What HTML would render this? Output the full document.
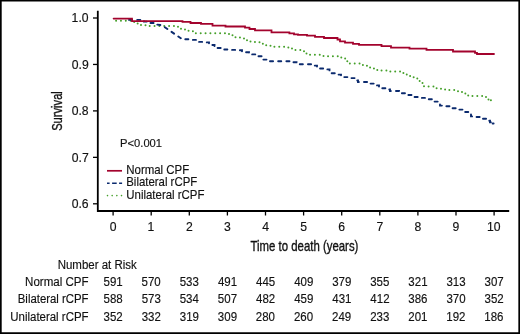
<!DOCTYPE html>
<html><head><meta charset="utf-8"><style>
html,body{margin:0;padding:0;background:#fff;width:520px;height:334px;overflow:hidden}
svg{display:block;will-change:transform}
text{font-family:"Liberation Sans", sans-serif;fill:#111;stroke:#111;stroke-width:0.15px}
</style></head><body>
<svg width="520" height="334" viewBox="0 0 520 334">
<path d="M97.8 10.7 V211.0 H509.2" fill="none" stroke="#000" stroke-width="1.8"/>
<path d="M93 18.00 H97.8" stroke="#000" stroke-width="1.3"/>
<text x="71.62" y="22.20" font-size="12.2" textLength="16.96" lengthAdjust="spacingAndGlyphs">1.0</text>
<path d="M93 64.45 H97.8" stroke="#000" stroke-width="1.3"/>
<text x="71.72" y="68.65" font-size="12.2" textLength="16.96" lengthAdjust="spacingAndGlyphs">0.9</text>
<path d="M93 110.90 H97.8" stroke="#000" stroke-width="1.3"/>
<text x="71.67" y="115.10" font-size="12.2" textLength="16.96" lengthAdjust="spacingAndGlyphs">0.8</text>
<path d="M93 157.35 H97.8" stroke="#000" stroke-width="1.3"/>
<text x="71.75" y="161.55" font-size="12.2" textLength="16.96" lengthAdjust="spacingAndGlyphs">0.7</text>
<path d="M93 203.80 H97.8" stroke="#000" stroke-width="1.3"/>
<text x="71.68" y="208.00" font-size="12.2" textLength="16.96" lengthAdjust="spacingAndGlyphs">0.6</text>
<path d="M113.10 211.0 V215.5" stroke="#000" stroke-width="1.3"/>
<text x="109.71" y="230.70" font-size="12.2" textLength="6.79" lengthAdjust="spacingAndGlyphs">0</text>
<path d="M151.20 211.0 V215.5" stroke="#000" stroke-width="1.3"/>
<text x="147.64" y="230.70" font-size="12.2" textLength="6.79" lengthAdjust="spacingAndGlyphs">1</text>
<path d="M189.30 211.0 V215.5" stroke="#000" stroke-width="1.3"/>
<text x="185.91" y="230.70" font-size="12.2" textLength="6.79" lengthAdjust="spacingAndGlyphs">2</text>
<path d="M227.40 211.0 V215.5" stroke="#000" stroke-width="1.3"/>
<text x="224.04" y="230.70" font-size="12.2" textLength="6.79" lengthAdjust="spacingAndGlyphs">3</text>
<path d="M265.50 211.0 V215.5" stroke="#000" stroke-width="1.3"/>
<text x="262.15" y="230.70" font-size="12.2" textLength="6.79" lengthAdjust="spacingAndGlyphs">4</text>
<path d="M303.60 211.0 V215.5" stroke="#000" stroke-width="1.3"/>
<text x="300.22" y="230.70" font-size="12.2" textLength="6.79" lengthAdjust="spacingAndGlyphs">5</text>
<path d="M341.70 211.0 V215.5" stroke="#000" stroke-width="1.3"/>
<text x="338.27" y="230.70" font-size="12.2" textLength="6.79" lengthAdjust="spacingAndGlyphs">6</text>
<path d="M379.80 211.0 V215.5" stroke="#000" stroke-width="1.3"/>
<text x="376.40" y="230.70" font-size="12.2" textLength="6.79" lengthAdjust="spacingAndGlyphs">7</text>
<path d="M417.90 211.0 V215.5" stroke="#000" stroke-width="1.3"/>
<text x="414.51" y="230.70" font-size="12.2" textLength="6.79" lengthAdjust="spacingAndGlyphs">8</text>
<path d="M456.00 211.0 V215.5" stroke="#000" stroke-width="1.3"/>
<text x="452.61" y="230.70" font-size="12.2" textLength="6.79" lengthAdjust="spacingAndGlyphs">9</text>
<path d="M494.10 211.0 V215.5" stroke="#000" stroke-width="1.3"/>
<text x="487.09" y="230.70" font-size="12.2" textLength="13.57" lengthAdjust="spacingAndGlyphs">10</text>
<text transform="translate(62.3 111) rotate(-90)" text-anchor="middle" font-size="14" textLength="39.7" lengthAdjust="spacingAndGlyphs" style="stroke-width:0.35px">Survival</text>
<text x="250.55" y="250.90" font-size="14.8" textLength="107.86" lengthAdjust="spacingAndGlyphs" style="stroke-width:0.35px">Time to death (years)</text>
<text x="120.08" y="147.40" font-size="11.2" textLength="41.96" lengthAdjust="spacingAndGlyphs">P&lt;0.001</text>
<path d="M107 170.8 H122" stroke="#a3032d" stroke-width="1.7"/>
<path d="M107 183.2 H122.3" stroke="#0b2a6e" stroke-width="1.4" stroke-dasharray="2.6 2.5 4.6 2.4 3"/>
<path d="M107.5 195.6 H122" stroke="#45a02a" stroke-width="1.6" stroke-dasharray="0 4.67" stroke-linecap="round"/>
<text x="126.26" y="173.90" font-size="12.1" textLength="63.00" lengthAdjust="spacingAndGlyphs">Normal CPF</text>
<text x="126.26" y="186.30" font-size="12.1" textLength="70.99" lengthAdjust="spacingAndGlyphs">Bilateral rCPF</text>
<text x="126.32" y="198.80" font-size="12.1" textLength="78.14" lengthAdjust="spacingAndGlyphs">Unilateral rCPF</text>
<path d="M113.3 20.8 H132.0 V21.5 H134.0 V22.1 H137.5 V23.5 H141.0 V25.0 H145.5 V25.5 H149.5 V26.0 H178.0 V28.0 H181.0 V29.5 H186.0 V30.8 H190.0 V31.3 H195.5 V33.2 H229.0 V34.8 H232.5 V36.1 H235.5 V37.6 H244.0 V38.8 H247.0 V40.6 H250.5 V42.0 H259.5 V43.8 H263.0 V45.3 H270.5 V46.8 H285.0 V47.4 H288.5 V48.6 H292.0 V50.0 H304.0 V51.5 H305.5 V53.5 H308.5 V54.8 H323.5 V56.2 H339.0 V57.5 H342.5 V58.5 H345.5 V61.2 H349.0 V63.5 H362.0 V65.0 H366.5 V65.8 H369.0 V67.5 H371.0 V68.5 H375.0 V70.0 H378.0 V70.6 H389.0 V71.5 H402.0 V73.0 H406.0 V74.5 H409.0 V76.0 H412.0 V77.3 H415.0 V78.5 H418.0 V81.0 H421.0 V83.0 H424.0 V86.6 H436.0 V88.3 H441.0 V89.5 H449.0 V90.1 H458.0 V92.0 H462.0 V93.5 H465.5 V95.5 H468.5 V96.1 H486.0 V98.0 H488.5 V100.2 H491.8" fill="none" stroke="#45a02a" stroke-width="2.0" stroke-dasharray="0 4.85" stroke-dashoffset="2.05" stroke-linecap="round"/>
<path d="M129.0 19.9 H141.5 V21.0 H144.0 V21.6 H149.0 V23.0 H155.0 V24.4 L162.0 25.2 L181.5 38.8 H182.0 V39.3 H189.0 V39.9 H196.5 V41.9 H203.0 V42.4 H209.0 V45.0 H214.5 V48.0 H221.5 V49.5 H228.0 V49.9 H236.0 V50.3 H242.0 V52.3 H249.0 V54.4 H257.0 V56.3 H262.0 V59.6 H266.5 V61.2 H291.0 V62.3 H296.5 V64.2 H311.5 V65.6 H317.0 V68.5 H324.0 V69.4 H329.5 V73.3 H336.0 V74.6 H341.0 V77.1 H348.5 V78.1 H356.0 V80.5 H358.0 V82.0 H367.5 V83.6 H374.0 V85.4 H379.0 V88.3 H388.5 V89.5 H390.0 V91.0 H399.0 V93.3 H405.5 V95.0 H411.5 V97.0 H418.5 V97.9 H426.5 V99.2 H432.0 V101.6 H438.0 V104.0 H440.0 V105.6 H443.5 V106.2 H449.5 V108.2 H457.5 V109.6 H462.5 V112.0 H469.0 V114.2 H471.0 V116.4 H475.0 V117.0 H481.5 V118.8 H488.0 V120.7 H490.0 V122.2 H492.0 V123.5 H494.0" fill="none" stroke="#0b2a6e" stroke-width="1.9" stroke-dasharray="3.1 5.1" stroke-linecap="round"/>
<path d="M490.9 100.3 h0.01" stroke="#45a02a" stroke-width="2.0" stroke-linecap="round"/>
<path d="M492.6 123.5 H493.6" stroke="#0b2a6e" stroke-width="1.9" stroke-linecap="round"/>
<path d="M113.6 18.6 H132.0 V21.2 H182.5 V21.9 H190.5 V23.0 H201.0 V23.9 H212.5 V25.7 H225.5 V26.5 H245.0 V27.6 H249.5 V29.0 H255.0 V30.3 H271.5 V32.4 H289.4 V33.4 H294.0 V34.3 H298.0 V34.8 H307.0 V35.6 H315.0 V36.9 H324.0 V38.0 H337.5 V39.5 H340.0 V41.3 H345.0 V42.7 H353.0 V43.8 H359.0 V44.8 H381.5 V46.2 H391.0 V47.6 H409.5 V48.6 H426.5 V49.8 H453.0 V51.5 H475.0 V52.8 H477.0 V54.0 H494.0" fill="none" stroke="#a3032d" stroke-width="1.8" stroke-linecap="round"/>
<text x="57.66" y="269.20" font-size="12.0" textLength="79.13" lengthAdjust="spacingAndGlyphs">Number at Risk</text>
<text x="25.05" y="286.30" font-size="12.0" textLength="63.51" lengthAdjust="spacingAndGlyphs">Normal CPF</text>
<text x="103.56" y="286.30" font-size="12.1" textLength="19.18" lengthAdjust="spacingAndGlyphs">591</text>
<text x="141.60" y="286.30" font-size="12.1" textLength="19.18" lengthAdjust="spacingAndGlyphs">570</text>
<text x="179.73" y="286.30" font-size="12.1" textLength="19.18" lengthAdjust="spacingAndGlyphs">533</text>
<text x="217.96" y="286.30" font-size="12.1" textLength="19.18" lengthAdjust="spacingAndGlyphs">491</text>
<text x="256.02" y="286.30" font-size="12.1" textLength="19.18" lengthAdjust="spacingAndGlyphs">445</text>
<text x="294.15" y="286.30" font-size="12.1" textLength="19.18" lengthAdjust="spacingAndGlyphs">409</text>
<text x="332.16" y="286.30" font-size="12.1" textLength="19.18" lengthAdjust="spacingAndGlyphs">379</text>
<text x="370.23" y="286.30" font-size="12.1" textLength="19.18" lengthAdjust="spacingAndGlyphs">355</text>
<text x="408.37" y="286.30" font-size="12.1" textLength="19.18" lengthAdjust="spacingAndGlyphs">321</text>
<text x="446.44" y="286.30" font-size="12.1" textLength="19.18" lengthAdjust="spacingAndGlyphs">313</text>
<text x="484.58" y="286.30" font-size="12.1" textLength="19.18" lengthAdjust="spacingAndGlyphs">307</text>
<text x="17.77" y="303.20" font-size="12.0" textLength="70.79" lengthAdjust="spacingAndGlyphs">Bilateral rCPF</text>
<text x="103.53" y="303.20" font-size="12.1" textLength="19.18" lengthAdjust="spacingAndGlyphs">588</text>
<text x="141.63" y="303.20" font-size="12.1" textLength="19.18" lengthAdjust="spacingAndGlyphs">573</text>
<text x="179.65" y="303.20" font-size="12.1" textLength="19.18" lengthAdjust="spacingAndGlyphs">534</text>
<text x="217.87" y="303.20" font-size="12.1" textLength="19.18" lengthAdjust="spacingAndGlyphs">507</text>
<text x="256.07" y="303.20" font-size="12.1" textLength="19.18" lengthAdjust="spacingAndGlyphs">482</text>
<text x="294.15" y="303.20" font-size="12.1" textLength="19.18" lengthAdjust="spacingAndGlyphs">459</text>
<text x="332.26" y="303.20" font-size="12.1" textLength="19.18" lengthAdjust="spacingAndGlyphs">431</text>
<text x="370.37" y="303.20" font-size="12.1" textLength="19.18" lengthAdjust="spacingAndGlyphs">412</text>
<text x="408.34" y="303.20" font-size="12.1" textLength="19.18" lengthAdjust="spacingAndGlyphs">386</text>
<text x="446.42" y="303.20" font-size="12.1" textLength="19.18" lengthAdjust="spacingAndGlyphs">370</text>
<text x="484.58" y="303.20" font-size="12.1" textLength="19.18" lengthAdjust="spacingAndGlyphs">352</text>
<text x="10.32" y="320.50" font-size="12.0" textLength="78.24" lengthAdjust="spacingAndGlyphs">Unilateral rCPF</text>
<text x="103.58" y="320.50" font-size="12.1" textLength="19.18" lengthAdjust="spacingAndGlyphs">352</text>
<text x="141.68" y="320.50" font-size="12.1" textLength="19.18" lengthAdjust="spacingAndGlyphs">332</text>
<text x="179.76" y="320.50" font-size="12.1" textLength="19.18" lengthAdjust="spacingAndGlyphs">319</text>
<text x="217.86" y="320.50" font-size="12.1" textLength="19.18" lengthAdjust="spacingAndGlyphs">309</text>
<text x="255.85" y="320.50" font-size="12.1" textLength="19.18" lengthAdjust="spacingAndGlyphs">280</text>
<text x="293.95" y="320.50" font-size="12.1" textLength="19.18" lengthAdjust="spacingAndGlyphs">260</text>
<text x="332.09" y="320.50" font-size="12.1" textLength="19.18" lengthAdjust="spacingAndGlyphs">249</text>
<text x="370.17" y="320.50" font-size="12.1" textLength="19.18" lengthAdjust="spacingAndGlyphs">233</text>
<text x="408.30" y="320.50" font-size="12.1" textLength="19.18" lengthAdjust="spacingAndGlyphs">201</text>
<text x="446.26" y="320.50" font-size="12.1" textLength="19.18" lengthAdjust="spacingAndGlyphs">192</text>
<text x="484.33" y="320.50" font-size="12.1" textLength="19.18" lengthAdjust="spacingAndGlyphs">186</text>
<path d="M0 0H520V1.55H0Z M0 0H1.7V334H0Z M518.35 0H520V334H518.35Z M0 332.2H520V334H0Z" fill="#000"/>
</svg>
</body></html>
